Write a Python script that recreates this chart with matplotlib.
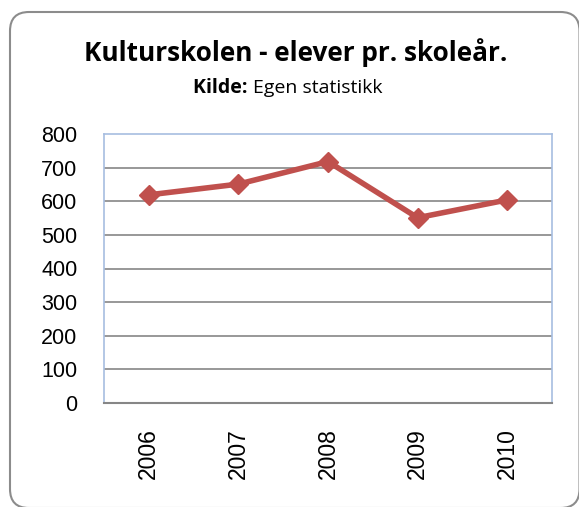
import matplotlib
matplotlib.use("Agg")
import matplotlib.pyplot as plt
from matplotlib.patches import FancyBboxPatch
from matplotlib.transforms import IdentityTransform

years = ["2006", "2007", "2008", "2009", "2010"]
students = [619, 651, 718, 551, 604]
yticks = [0, 100, 200, 300, 400, 500, 600, 700, 800]

W, H = 579, 507
fig = plt.figure(figsize=(W / 100, H / 100), dpi=100)
fig.patch.set_facecolor("white")

# rounded outer border in pixel coordinates (runs slightly off right/bottom)
box = FancyBboxPatch((10, -1), 569.5, 496,
                     boxstyle="round,pad=0,rounding_size=19",
                     transform=IdentityTransform(), facecolor="none",
                     edgecolor="#8c8c8c", linewidth=1.5, zorder=-1)
fig.patches.append(box)

ax = fig.add_axes([104 / W, 1 - 403 / H, (552 - 104) / W, (403 - 134) / H])
ax.set_facecolor("white")
x = list(range(len(years)))
ax.plot(x, students, color="#C0504D", linewidth=4, marker="D",
        markersize=10, markeredgecolor="#C0504D", zorder=3)

ax.set_xlim(-0.5, len(years) - 0.5)
ax.set_ylim(0, 800)
ax.set_yticks(yticks)
ax.set_yticklabels([str(v) for v in yticks], fontsize=15.5, family="Liberation Sans")
ax.set_xticks(x)
ax.set_xticklabels(years, rotation=90, fontsize=16.5, family="Liberation Sans")
for lbl in ax.get_xticklabels():
    lbl.set_x(lbl.get_position()[0])
ax.tick_params(axis="both", length=0)
ax.tick_params(axis="y", pad=19)
ax.tick_params(axis="x", pad=18)
for v in yticks[1:-1]:
    ax.axhline(v, color="#868686", linewidth=1.2, zorder=1)
for s in ["top", "right", "left"]:
    ax.spines[s].set_color("#a7bde0")
    ax.spines[s].set_linewidth(1.2)
ax.spines["bottom"].set_color("#868686")
ax.spines["bottom"].set_linewidth(1.5)

fig.text(296 / W, 1 - 53 / H, "Kulturskolen - elever pr. skoleår.",
         ha="center", va="center", fontsize=18.8, fontweight="bold",
         family="Open Sans")
t1 = fig.text(0, 1 - 88 / H, "Kilde: ", ha="left", va="center",
              fontsize=14, fontweight="bold", family="Open Sans")
t2 = fig.text(0, 1 - 88 / H, "Egen statistikk", ha="left", va="center",
              fontsize=14, family="Open Sans")
r = fig.canvas.get_renderer()
w1 = t1.get_window_extent(r).width
w2 = t2.get_window_extent(r).width
start = 288 - (w1 + w2) / 2
t1.set_x(start / W)
t2.set_x((start + w1) / W)

fig.savefig("out.png", dpi=100)
